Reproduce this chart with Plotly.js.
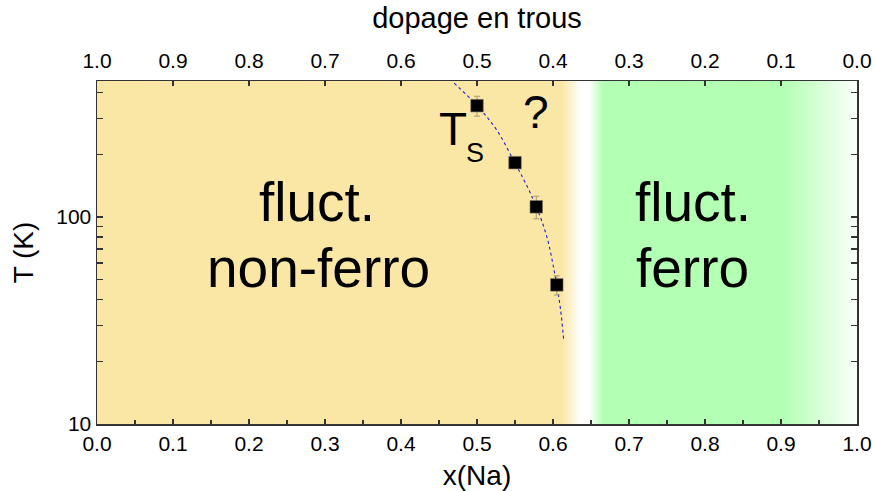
<!DOCTYPE html>
<html>
<head>
<meta charset="utf-8">
<script src="https://cdn.plot.ly/plotly-3.0.1.min.js"></script>
<style>html,body{margin:0;padding:0;background:#fff}#chart{width:875px;height:491px}</style>
</head>
<body>
<div id="chart"></div>
<script>
// Data points: T_S transition vs x(Na)
const xNa = [0.5, 0.55, 0.578, 0.605];
const Ts = [345, 183, 112, 47];
const TsErr = [38, 10, 14, 5];
const xErr = [0.006, 0.006, 0.006, 0.006];

// Dotted guide curve
const curveX = [0.470, 0.500, 0.526, 0.549, 0.565, 0.578, 0.592, 0.604, 0.610, 0.614];
const curveY = [443, 345, 263, 185, 143, 112, 80, 49, 35.6, 25.6];

// Background region colours along x
const bgStops = [0, 0.611, 0.637, 0.648, 0.666, 0.902, 1.0];
const bgColors = ['#FAE6A5', '#FAE6A5', '#FFFFFF', '#FFFFFF', '#B3FFB3', '#B3FFB3', '#FBFFFB'];

// Tick labels
const xTicks = [0, 0.1, 0.2, 0.3, 0.4, 0.5, 0.6, 0.7, 0.8, 0.9, 1.0];
const xTickText = ['0.0','0.1','0.2','0.3','0.4','0.5','0.6','0.7','0.8','0.9','1.0'];
const yTicks = [10, 100];
const yTickText = ['10', '100'];
const yMinor = [20,30,40,50,60,70,80,90,200,300,400];
const xMinor = [0.05,0.15,0.25,0.35,0.45,0.55,0.65,0.75,0.85,0.95];

const font = 'Liberation Sans, Arial, sans-serif';

const traces = [
  {
    x: [0, 1, 1, 0, 0], y: [5, 5, 1000, 1000, 5],
    mode: 'lines', line: {width: 0}, fill: 'toself',
    fillgradient: {type: 'horizontal', start: 0, stop: 1,
      colorscale: bgStops.map((s, i) => [s, bgColors[i]])},
    hoverinfo: 'skip', showlegend: false
  },
  {
    x: curveX, y: curveY, mode: 'lines',
    line: {color: '#2020dd', width: 1.1, dash: 'dot', shape: 'spline'},
    showlegend: false
  },
  {
    x: xNa, y: Ts, mode: 'markers',
    marker: {symbol: 'square', size: 12.5, color: '#000', line: {color: '#7a7060', width: 0.6}},
    error_y: {type: 'data', array: TsErr, color: '#a89a70', thickness: 1, width: 3},
    error_x: {type: 'data', array: xErr, color: '#a89a70', thickness: 1, width: 3},
    showlegend: false
  },
  { x: [0.5], y: [100], xaxis: 'x2', mode: 'markers', marker: {opacity: 0}, showlegend: false, hoverinfo: 'skip' }
];

function ann(text, x, y, size) {
  return {text: text, x: x, y: y, xref: 'x', yref: 'paper', showarrow: false,
    xanchor: 'center', yanchor: 'middle', font: {family: font, size: size, color: '#000'}};
}

const layout = {
  width: 875, height: 491,
  margin: {l: 97, r: 18, t: 81, b: 67},
  paper_bgcolor: '#fff', plot_bgcolor: '#fff',
  font: {family: font, color: '#000'},
  xaxis: {
    range: [0, 1], tickmode: 'array', tickvals: xTicks, ticktext: xTickText,
    ticks: 'inside', ticklen: 5, tickwidth: 1.2, tickcolor: '#333',
    minor: {tickmode: 'array', tickvals: xMinor, ticks: 'inside', ticklen: 4, tickwidth: 1.2, tickcolor: '#333'},
    showline: true, linecolor: '#333', linewidth: 1.5, showgrid: false, zeroline: false,
    tickfont: {family: font, size: 21, color: '#000'},
    title: {text: 'x(Na)', font: {family: font, size: 28, color: '#000'}, standoff: 12}
  },
  xaxis2: {
    range: [1, 0], overlaying: 'x', side: 'top', anchor: 'y',
    tickmode: 'array', tickvals: xTicks, ticktext: xTickText,
    ticks: 'inside', ticklen: 5, tickwidth: 1.2, tickcolor: '#333',
    ticklabelstandoff: 3,
    showline: true, linecolor: '#333', linewidth: 1.5, showgrid: false, zeroline: false,
    tickfont: {family: font, size: 21, color: '#000'},
    title: {text: 'dopage en trous', font: {family: font, size: 29, color: '#000'}, standoff: 12}
  },
  yaxis: {
    type: 'log', range: [1, 2.657], tickmode: 'array', tickvals: yTicks, ticktext: yTickText,
    ticks: 'inside', ticklen: 6, tickwidth: 1.2, tickcolor: '#333',
    minor: {tickmode: 'array', tickvals: yMinor, ticks: 'inside', ticklen: 4, tickwidth: 1.2, tickcolor: '#333'},
    showline: true, linecolor: '#333', linewidth: 1.5, mirror: 'allticks', showgrid: false, zeroline: false,
    tickfont: {family: font, size: 21, color: '#000'},
    title: {text: 'T (K)', font: {family: font, size: 28, color: '#000'}, standoff: 14}
  },
  annotations: [
    ann('fluct.', 0.289, 0.647, 55),
    ann('non-ferro', 0.291, 0.455, 55),
    ann('fluct.', 0.7836, 0.647, 55),
    ann('ferro', 0.7836, 0.455, 55),
    ann('T', 0.469, 0.859, 46),
    ann('S', 0.498, 0.789, 27),
    ann('?', 0.578, 0.911, 46)
  ],
  showlegend: false
};

Plotly.newPlot('chart', traces, layout, {displayModeBar: false, staticPlot: true});
</script>
</body>
</html>
